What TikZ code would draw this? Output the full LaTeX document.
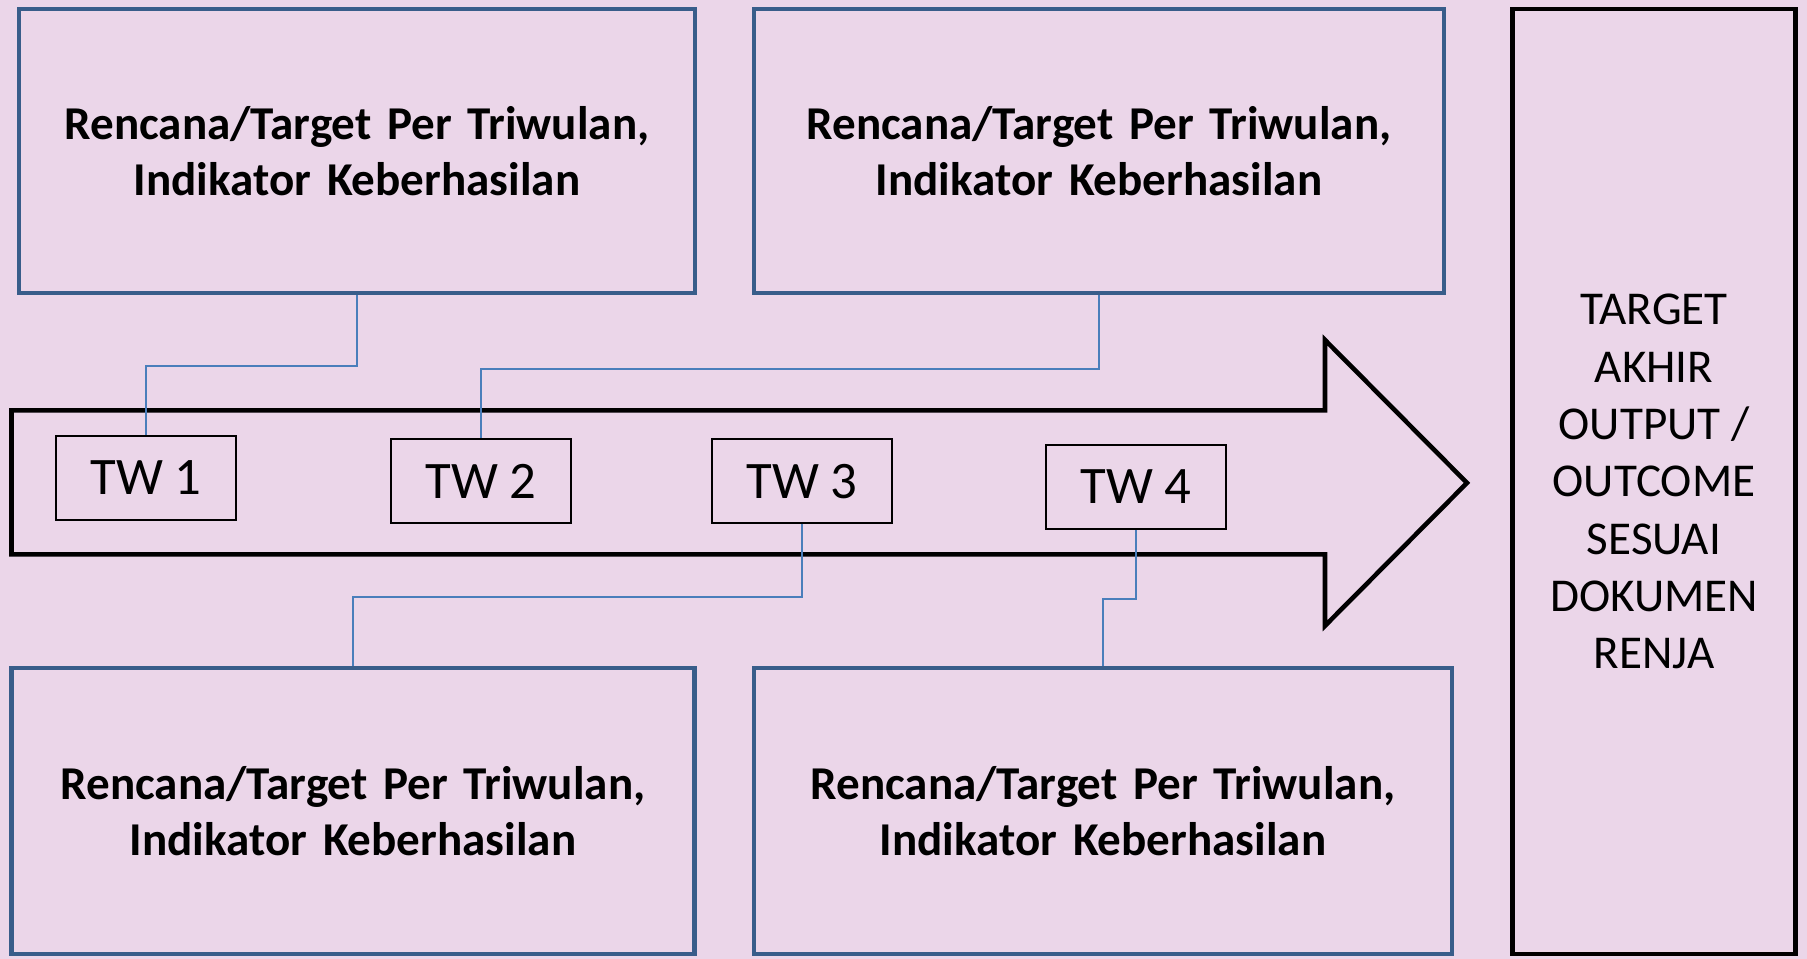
\documentclass[tikz,border=0pt]{standalone}
\usepackage{xcolor}
\usepackage{fontspec}
\setmainfont{Carlito}
\usepackage{tikz}
\definecolor{bgpink}{RGB}{235,214,233}
\definecolor{boxblue}{RGB}{56,93,138}
\definecolor{linkblue}{RGB}{74,126,187}
\usetikzlibrary{positioning,calc}

\begin{document}
\begin{tikzpicture}[
    plan/.style={rectangle, draw=boxblue, line width=1.2pt, minimum width=6.8cm, minimum height=2.84cm, text width=6.4cm, align=center, font=\fontsize{13.4}{16}\selectfont\bfseries},
    tw/.style={rectangle, draw=black, line width=0.5pt, minimum width=1.8cm, minimum height=0.84cm, font=\fontsize{15}{18}\selectfont},
    goal/.style={rectangle, draw=black, line width=1.3pt, minimum width=2.835cm, minimum height=9.45cm, align=center, font=\fontsize{13.4}{16.3}\selectfont},
    link/.style={draw=linkblue, line width=0.6pt}
]

\fill[bgpink] (0,0) rectangle (18.07,9.59);
\useasboundingbox (0,0) rectangle (18.07,9.59);

\draw[line width=1.3pt, line join=miter] (0.115,5.487) -- (13.25,5.487) -- (13.25,6.19) -- (14.67,4.761)
    -- (13.25,3.332) -- (13.25,4.047) -- (0.115,4.047) -- cycle;

\node[plan, minimum width=6.76cm] (tl) at (3.57,8.08) {Rencana/Target Per Triwulan,\\Indikator Keberhasilan};
\node[plan, minimum width=6.90cm] (tr) at (10.99,8.08) {Rencana/Target Per Triwulan,\\Indikator Keberhasilan};
\node[plan, minimum width=6.83cm, minimum height=2.86cm] (bl) at (3.53,1.477) {Rencana/Target Per Triwulan,\\Indikator Keberhasilan};
\node[plan, minimum width=6.98cm, minimum height=2.86cm] (br) at (11.03,1.477) {Rencana/Target Per Triwulan,\\Indikator Keberhasilan};
\node[goal] (target) at (16.54,4.773) {TARGET\\AKHIR\\OUTPUT /\\OUTCOME\\SESUAI\\DOKUMEN\\RENJA};

\node[tw] (tw1) at (1.46,4.813) {TW 1};
\node[tw] (tw2) at (4.81,4.779) {TW 2};
\node[tw] (tw3) at (8.02,4.779) {TW 3};
\node[tw] (tw4) at (11.36,4.721) {TW 4};

\draw[link] (tl.south) -- ++(0,-0.71) -| (tw1.north);
\draw[link] (tr.south) -- ++(0,-0.74) -| (tw2.north);
\draw[link] (tw3.south) -- ++(0,-0.73) -| (bl.north);
\draw[link] (tw4.south) -- ++(0,-0.69) -| (br.north);

\end{tikzpicture}
\end{document}
